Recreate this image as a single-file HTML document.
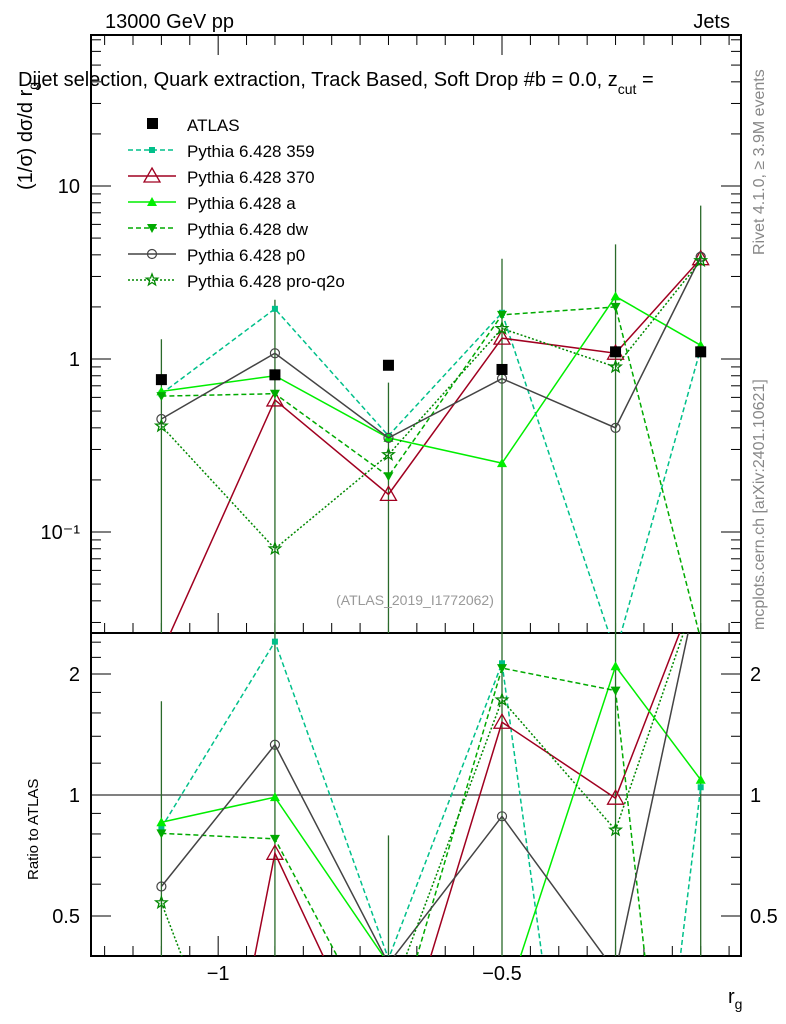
<!DOCTYPE html>
<html><head><meta charset="utf-8">
<style>
html,body{margin:0;background:#fff;overflow:hidden;width:786px;height:1024px;}
svg{display:block;font-family:"Liberation Sans",sans-serif;overflow:hidden;}
</style></head>
<body>
<svg id="c" width="786" height="1024" viewBox="0 0 786 1024">
<defs>
<clipPath id="cm"><rect x="91" y="35" width="650" height="598"/></clipPath>
<clipPath id="cr"><rect x="91" y="633" width="650" height="323"/></clipPath>
</defs>
<g id="frame"></g>
<g id="marks"></g>
<text x="105" y="28" font-size="20">13000 GeV pp</text>
<text x="730" y="28" font-size="20" text-anchor="end">Jets</text>
<text x="18" y="86" font-size="20">Dijet selection, Quark extraction, Track Based, Soft Drop #b = 0.0, z<tspan font-size="14" dy="8">cut</tspan><tspan dy="-8"> =</tspan></text>
<text transform="translate(32,190) rotate(-90)" font-size="20">(1/σ) dσ/d r<tspan font-size="14" dy="6">g</tspan></text>
<text transform="translate(38,880) rotate(-90)" font-size="15">Ratio to ATLAS</text>
<text x="728" y="1003" font-size="20">r<tspan font-size="14" dy="6">g</tspan></text>
<text transform="translate(764,255) rotate(-90)" font-size="16" fill="#888">Rivet 4.1.0, ≥ 3.9M events</text>
<text transform="translate(764,630) rotate(-90)" font-size="16" fill="#888">mcplots.cern.ch [arXiv:2401.10621]</text>
<text x="415" y="605" font-size="14" fill="#999" text-anchor="middle">(ATLAS_2019_I1772062)</text>
<g id="legend"></g>
</svg>
<script>
const xs=[-1.1,-0.9,-0.7,-0.5,-0.3,-0.15];
const atlas=[0.76,0.81,0.92,0.87,1.1,1.1];
const s359=[0.63,1.95,0.36,1.85,0.02,1.15];
const s370=[0.02,0.58,0.165,1.32,1.08,3.8];
const sA=[0.65,0.8,0.35,0.25,2.3,1.2];
const sDW=[0.61,0.63,0.21,1.8,2.0,0.024];
const sP0=[0.45,1.08,0.35,0.77,0.4,3.9];
const sPQ=[0.41,0.08,0.28,1.5,0.9,3.7];
const errTop=[1.3,2.2,0.73,3.8,4.6,7.7];
const mainTicks=[10,1,0.1];
const mainTickLabels=["10","1","10⁻¹"];
const ratioTicks=[2,1,0.5];
const ratioTickLabels=["2","1","0.5"];
const xTicks=[-1,-0.5];
const xTickLabels=["−1","−0.5"];

const NS="http://www.w3.org/2000/svg";
const X0=91,X1=741,XMIN=-1.224,XMAX=-0.079;
const sx=v=>X0+(v-XMIN)/(XMAX-XMIN)*(X1-X0);
const sy=v=>359-173*Math.log10(v);
const ry=v=>795-121*Math.log2(v);
function el(t,a,p){const e=document.createElementNS(NS,t);for(const k in a)e.setAttribute(k,a[k]);p.appendChild(e);return e;}
const F=document.getElementById('frame'),M=document.getElementById('marks'),L=document.getElementById('legend');

let r1=el('rect',{x:91,y:35,width:650,height:598,fill:'none',stroke:'#000','stroke-width':2},F);


let r2=el('rect',{x:91,y:633,width:650,height:323,fill:'none',stroke:'#000','stroke-width':2},F);


let ul=el('line',{x1:91,x2:741,y1:795,y2:795,stroke:'#000'},F);


for(let d=-2;d<=1;d++)for(let m=1;m<10;m++){const v=m*Math.pow(10,d);const y=sy(v);if(y<35||y>633)continue;const len=m==1?20:10;
 el('line',{x1:91,x2:91+len,y1:y,y2:y,stroke:'#000'},F);el('line',{x1:741,x2:741-len,y1:y,y2:y,stroke:'#000'},F);}
mainTicks.forEach((v,i)=>{const t=el('text',{x:80,y:sy(v)+7,'font-size':20,'text-anchor':'end'},F);t.textContent=mainTickLabels[i];
 
 });
[0.5,0.6,0.7,0.8,0.9,1,1.2,1.4,1.6,1.8,2,2.2,2.4].forEach(v=>{const y=ry(v);const len=(v==1||v==2||v==0.5)?20:10;
 el('line',{x1:91,x2:91+len,y1:y,y2:y,stroke:'#000'},F);el('line',{x1:741,x2:741-len,y1:y,y2:y,stroke:'#000'},F);});
ratioTicks.forEach((v,i)=>{const t=el('text',{x:80,y:ry(v)+7,'font-size':20,'text-anchor':'end'},F);t.textContent=ratioTickLabels[i];
 
 
 const t2=el('text',{x:750,y:ry(v)+7,'font-size':20},F);t2.textContent=ratioTickLabels[i];
 
 });
for(let k=-24;k<=-2;k++){const v=k*0.05;if(v<XMIN||v>XMAX)continue;const x=sx(v);const major=(k%10===0);const len=major?20:10;
 [[633,1],[956,1],[35,-1]].forEach(([y0,s])=>{el('line',{x1:x,x2:x,y1:y0,y2:y0-s*len,stroke:'#000'},F);});}
xTicks.forEach((v,i)=>{const t=el('text',{x:sx(v),y:980,'font-size':20,'text-anchor':'middle'},F);t.textContent=xTickLabels[i];
 
 });

const series=[
 {n:'pythia-359',d:s359,c:'#00c08a',dash:'5,3',m:'sq'},
 {n:'pythia-370',d:s370,c:'#a00020',dash:'',m:'tri-open'},
 {n:'pythia-a',d:sA,c:'#00ee00',dash:'',m:'tri'},
 {n:'pythia-dw',d:sDW,c:'#00aa00',dash:'5,3',m:'tri-down'},
 {n:'pythia-p0',d:sP0,c:'#444',dash:'',m:'circ'},
 {n:'pythia-pro-q2o',d:sPQ,c:'#008800',dash:'2,2',m:'star'}];
function marker(type,x,y,c,g){
 if(type=='sq')return el('rect',{x:x-3,y:y-3,width:6,height:6,fill:c},g);
 if(type=='tri')return el('path',{d:`M${x},${y-5}L${x+5},${y+4}L${x-5},${y+4}Z`,fill:c},g);
 if(type=='tri-open')return el('path',{d:`M${x},${y-8}L${x+8},${y+6}L${x-8},${y+6}Z`,fill:'none',stroke:c,'stroke-width':1.3},g);
 if(type=='tri-down')return el('path',{d:`M${x},${y+5}L${x+5},${y-4}L${x-5},${y-4}Z`,fill:c},g);
 if(type=='circ')return el('circle',{cx:x,cy:y,r:4.5,fill:'none',stroke:c,'stroke-width':1.2},g);
 if(type=='star'){let p='';for(let k=0;k<10;k++){const a=-Math.PI/2+k*Math.PI/5,rr=k%2?2.5:6;p+=(k?'L':'M')+(x+rr*Math.cos(a))+','+(y+rr*Math.sin(a));}return el('path',{d:p+'Z',fill:'none',stroke:c,'stroke-width':1.3},g);}
}
const gm=el('g',{'clip-path':'url(#cm)'},M),gr=el('g',{'clip-path':'url(#cr)'},M);
xs.forEach((v,i)=>{const x=sx(v);
 const e=el('line',{x1:x,x2:x,y1:sy(errTop[i]),y2:633,stroke:'#2a6a2a','stroke-width':1.3},gm);
 
 
 const e2=el('line',{x1:x,x2:x,y1:ry(errTop[i]/atlas[i]),y2:956,stroke:'#2a6a2a','stroke-width':1.3},gr);
 
 });
series.forEach(s=>{
 const pts=xs.map((v,i)=>sx(v)+','+sy(s.d[i])).join(' ');
 const pl=el('polyline',{points:pts,fill:'none',stroke:s.c,'stroke-width':1.5,'stroke-dasharray':s.dash},gm);
 
 
 const rp=xs.map((v,i)=>sx(v)+','+ry(s.d[i]/atlas[i])).join(' ');
 const pr=el('polyline',{points:rp,fill:'none',stroke:s.c,'stroke-width':1.5,'stroke-dasharray':s.dash},gr);
 
 
 xs.forEach((v,i)=>{const mk=marker(s.m,sx(v),sy(s.d[i]),s.c,gm);
  
  
  const mr=marker(s.m,sx(v),ry(s.d[i]/atlas[i]),s.c,gr);
  
  });
});
xs.forEach((v,i)=>{const a=el('rect',{x:sx(v)-5.5,y:sy(atlas[i])-5.5,width:11,height:11,fill:'#000'},gm);
 
 });
const lg=[{m:'atlas'}].concat(series);
const lnames=['ATLAS','Pythia 6.428 359','Pythia 6.428 370','Pythia 6.428 a','Pythia 6.428 dw','Pythia 6.428 p0','Pythia 6.428 pro-q2o'];
lg.forEach((s,i)=>{const y=124+i*26;const g=el('g',{},L);
 
 
 if(s.m=='atlas')el('rect',{x:147,y:y-6,width:11,height:11,fill:'#000'},g);
 else{el('line',{x1:128,x2:176,y1:y,y2:y,stroke:s.c,'stroke-width':1.5,'stroke-dasharray':s.dash},g);marker(s.m,152,y,s.c,g);}
 const t=el('text',{x:187,y:y+7,'font-size':17},g);t.textContent=lnames[i];});
</script>
</body></html>
